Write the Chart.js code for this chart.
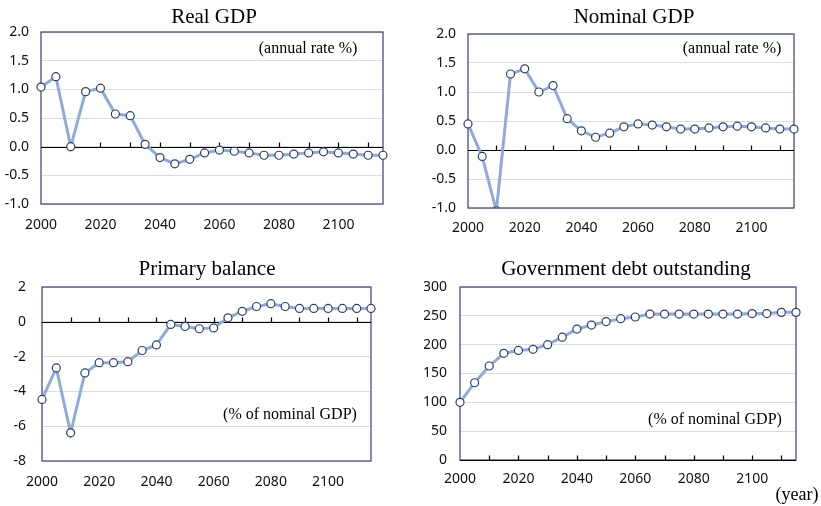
<!DOCTYPE html>
<html>
<head>
<meta charset="utf-8">
<script src="https://cdn.jsdelivr.net/npm/chart.js@4.4.1/dist/chart.umd.min.js"></script>
<style>
  body { margin: 0; background: #fff; }
  canvas { position: absolute; left: 0; top: 0; }
</style>
</head>
<body>
<canvas id="c1" width="821" height="506"></canvas>
<canvas id="c2" width="821" height="506"></canvas>
<canvas id="c3" width="821" height="506"></canvas>
<canvas id="c4" width="821" height="506"></canvas>
<script>
// years, every 5 from 2000 to 2115
var years = [2000, 2005, 2010, 2015, 2020, 2025, 2030, 2035, 2040, 2045, 2050, 2055,
             2060, 2065, 2070, 2075, 2080, 2085, 2090, 2095, 2100, 2105, 2110, 2115];
var yearLabels = [2000, 2020, 2040, 2060, 2080, 2100];

// annual rate %
var realGdp = [1.04, 1.22, 0.00, 0.96, 1.02, 0.57, 0.54, 0.04, -0.19, -0.30, -0.22, -0.11,
               -0.06, -0.08, -0.11, -0.15, -0.15, -0.13, -0.11, -0.09, -0.11, -0.13, -0.15, -0.15];
var nominalGdp = [0.45, -0.11, -1.05, 1.31, 1.40, 1.00, 1.11, 0.54, 0.33, 0.22, 0.29, 0.40,
                  0.45, 0.43, 0.40, 0.36, 0.36, 0.38, 0.40, 0.41, 0.40, 0.38, 0.36, 0.36];
// % of nominal GDP
var primaryBalance = [-4.46, -2.65, -6.38, -2.94, -2.35, -2.35, -2.29, -1.65, -1.33, -0.15, -0.27, -0.40,
                      -0.35, 0.23, 0.60, 0.88, 1.04, 0.88, 0.77, 0.77, 0.77, 0.77, 0.77, 0.77];
var govDebt = [100, 134, 163, 185, 190, 192, 200, 213, 227, 234, 240, 245,
               248, 253, 253, 253, 253, 253, 253, 253, 254, 254, 256, 256];

var lineColor = '#8faadc';
var markerEdge = '#2e3f6e';
var frameColor = '#464d8d';
var tickFont = { family: "'Noto Sans', sans-serif", size: 14 };
var serif = "'Liberation Serif', 'DejaVu Serif', serif";

var panelDecor = {
  id: 'panelDecor',
  beforeDatasetsDraw: function(chart, args, o) {
    var ctx = chart.ctx, a = chart.chartArea;
    var x = chart.scales.x, y = chart.scales.y;
    ctx.save();
    ctx.lineWidth = 1.3;
    ctx.strokeStyle = frameColor;
    ctx.strokeRect(a.left, a.top, a.right - a.left, a.bottom - a.top);
    // zero line with small ticks pointing up
    var y0 = Math.round(y.getPixelForValue(0)) + 0.5;
    ctx.strokeStyle = '#000';
    ctx.lineWidth = 1.2;
    ctx.beginPath();
    ctx.moveTo(a.left, y0);
    ctx.lineTo(a.right, y0);
    for (var yr = 2010; yr <= 2110; yr += 10) {
      var px = Math.round(x.getPixelForValue(yr)) + 0.5;
      ctx.moveTo(px, y0);
      ctx.lineTo(px, y0 - 5);
    }
    ctx.stroke();
    ctx.restore();
  },
  afterDraw: function(chart, args, o) {
    var ctx = chart.ctx;
    ctx.save();
    ctx.fillStyle = '#000';
    ctx.textAlign = 'center';
    ctx.textBaseline = 'alphabetic';
    ctx.font = '21px ' + serif;
    ctx.fillText(o.title, o.titleX, o.titleY);
    ctx.font = '16px ' + serif;
    ctx.fillText(o.note, o.noteX, o.noteY);
    if (o.extra) {
      ctx.font = '18px ' + serif;
      ctx.fillText(o.extra, o.extraX, o.extraY);
    }
    ctx.restore();
  }
};

function makePanel(id, values, yMin, yMax, yStep, digits, box, labPad, xPad, decor) {
  var yW = 36, xH = 30;
  var pts = years.map(function(yr, i) { return { x: yr, y: values[i] }; });
  return new Chart(document.getElementById(id), {
    type: 'line',
    data: {
      datasets: [{
        data: pts,
        borderColor: lineColor,
        borderWidth: 3,
        tension: 0,
        pointRadius: 4,
        pointBorderWidth: 1.2,
        pointBackgroundColor: '#fff',
        pointBorderColor: markerEdge,
        clip: { left: 8, right: 8, top: 0, bottom: 0 }
      }]
    },
    options: {
      responsive: false,
      animation: false,
      events: [],
      layout: {
        padding: { left: box.l - yW, right: 821 - box.r, top: box.t, bottom: 506 - box.b - xH }
      },
      plugins: {
        legend: { display: false },
        tooltip: { enabled: false },
        panelDecor: decor
      },
      scales: {
        x: {
          type: 'linear',
          min: 2000,
          max: 2115,
          grid: { display: false, drawTicks: false },
          border: { display: false },
          afterBuildTicks: function(s) {
            s.ticks = yearLabels.map(function(v) { return { value: v }; });
          },
          afterFit: function(s) { s.height = xH; },
          ticks: { font: tickFont, color: '#111', padding: xPad, maxRotation: 0,
                   callback: function(v) { return String(v); } }
        },
        y: {
          min: yMin,
          max: yMax,
          grid: { color: '#dcdcdc', lineWidth: 1, drawTicks: false },
          border: { display: false },
          afterFit: function(s) { s.width = yW; },
          ticks: { font: tickFont, color: '#111', padding: labPad, stepSize: yStep,
                   callback: function(v) { return v.toFixed(digits); } }
        }
      }
    },
    plugins: [panelDecor]
  });
}

makePanel('c1', realGdp, -1, 2, 0.5, 1, { l: 41, t: 32, r: 383, b: 204 }, 12, 13,
  { title: 'Real GDP', titleX: 214, titleY: 23, note: '(annual rate %)', noteX: 308, noteY: 53 });
makePanel('c2', nominalGdp, -1, 2, 0.5, 1, { l: 468, t: 34, r: 794, b: 208 }, 12, 12,
  { title: 'Nominal GDP', titleX: 634, titleY: 23, note: '(annual rate %)', noteX: 732, noteY: 53 });
makePanel('c3', primaryBalance, -8, 2, 2, 0, { l: 42, t: 287, r: 371, b: 461 }, 16, 13,
  { title: 'Primary balance', titleX: 207, titleY: 275, note: '(% of nominal GDP)', noteX: 290, noteY: 419 });
makePanel('c4', govDebt, 0, 300, 50, 0, { l: 460, t: 287, r: 796, b: 460 }, 13, 11,
  { title: 'Government debt outstanding', titleX: 626, titleY: 275, note: '(% of nominal GDP)', noteX: 715, noteY: 424,
    extra: '(year)', extraX: 797, extraY: 500 });
</script>
</body>
</html>
